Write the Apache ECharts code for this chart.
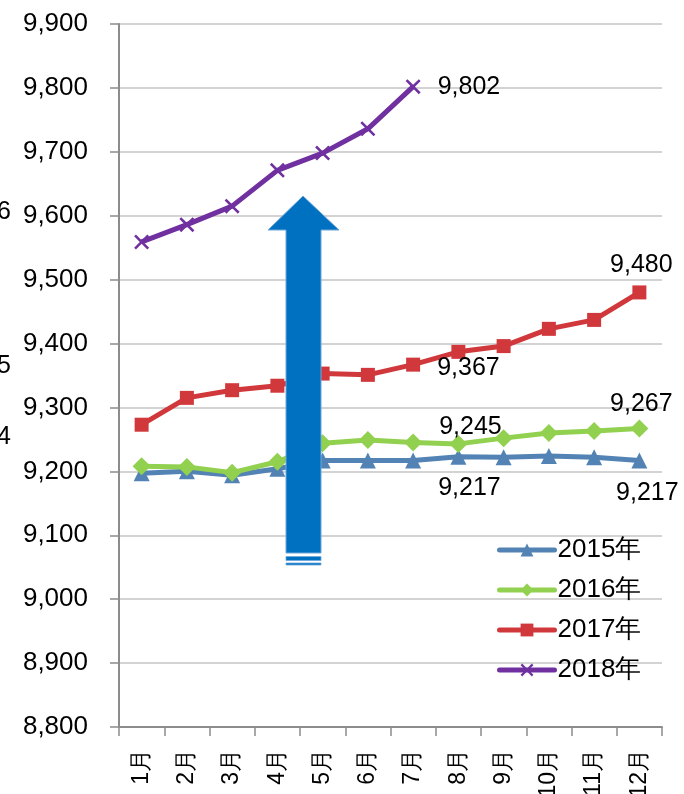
<!DOCTYPE html>
<html>
<head>
<meta charset="utf-8">
<script src="https://cdn.jsdelivr.net/npm/echarts@6/dist/echarts.min.js"></script>
<style>
  html, body { margin: 0; padding: 0; background: #fff; }
  #chart { width: 684px; height: 794px; }
</style>
</head>
<body>
<div id="chart"></div>
<script>
// Monthly figures, one array per year
const months = ['1月', '2月', '3月', '4月', '5月', '6月', '7月', '8月', '9月', '10月', '11月', '12月'];
const seriesNames = ['2015年', '2016年', '2017年', '2018年'];
const y2015 = [9197, 9200, 9194, 9204, 9217, 9217, 9217, 9223, 9222, 9224, 9222, 9217];
const y2016 = [9208, 9207, 9198, 9215, 9244, 9249, 9245, 9243, 9252, 9260, 9263, 9267];
const y2017 = [9273, 9315, 9327, 9334, 9353, 9351, 9367, 9387, 9396, 9423, 9437, 9480];
const y2018 = [9559, 9586, 9615, 9671, 9698, 9736, 9802];
const yTicks = { min: 8800, max: 9900, step: 100 };

const fmt = v => v.toLocaleString('en-US');
const FONT = '"Liberation Sans", Arial, sans-serif';

// Put a value label on selected points of a series
function withLabels(values, specs) {
  const out = values.slice();
  specs.forEach(([idx, opt]) => {
    out[idx] = {
      value: values[idx],
      label: Object.assign({ show: true, formatter: p => fmt(p.value), color: '#000', fontSize: 25, fontFamily: FONT }, opt)
    };
  });
  return out;
}

const crossPath = 'path://M0,1.2 L1.2,0 L5,3.8 L8.8,0 L10,1.2 L6.2,5 L10,8.8 L8.8,10 L5,6.2 L1.2,10 L0,8.8 L3.8,5 Z';

const chart = echarts.init(document.getElementById('chart'), null, { renderer: 'canvas' });

const option = {
  animation: false,
  backgroundColor: '#fff',
  textStyle: { fontFamily: FONT },
  grid: { left: 119, right: 22, top: 24, bottom: 67, containLabel: false, outerBoundsMode: 'none' },
  legend: {
    data: seriesNames,
    orient: 'vertical',
    left: 492,
    top: 532,
    itemWidth: 55,
    itemHeight: 16,
    itemGap: 14,
    lineStyle: { width: 5, cap: 'round' },
    textStyle: { fontSize: 26, color: '#000', fontFamily: FONT, padding: [0, 0, 0, -2] }
  },
  xAxis: {
    type: 'category',
    data: months,
    boundaryGap: true,
    axisLine: { lineStyle: { color: '#8c8c8c', width: 2 } },
    axisTick: { show: true, alignWithLabel: false, length: 9, lineStyle: { color: '#8c8c8c', width: 1.5 } },
    axisLabel: { rotate: 90, margin: 22, fontSize: 23, color: '#000', fontFamily: FONT, interval: 0 },
    splitLine: { show: false }
  },
  yAxis: {
    type: 'value',
    min: yTicks.min,
    max: yTicks.max,
    interval: yTicks.step,
    axisLine: { show: true, lineStyle: { color: '#8c8c8c', width: 2 } },
    axisTick: { show: true, length: 9, lineStyle: { color: '#8c8c8c', width: 1.5 } },
    axisLabel: { margin: 31, fontSize: 26, color: '#000', fontFamily: FONT, formatter: v => fmt(v) },
    splitLine: { lineStyle: { color: '#c4c4c4', width: 1.5 } }
  },
  series: [
    {
      name: '2015年', type: 'line',
      data: withLabels(y2015, [[6, { position: 'right', distance: 17, offset: [0, 28] }], [11, { position: 'bottom', distance: 12, offset: [8, 0] }]]),
      symbol: 'triangle', symbolSize: 16, showAllSymbol: true,
      lineStyle: { color: '#5383B4', width: 5 },
      itemStyle: { color: '#5383B4' },
      z: 2
    },
    {
      name: '2016年', type: 'line',
      data: withLabels(y2016, [[6, { position: 'right', distance: 17, offset: [0, -15] }], [11, { position: 'top', distance: 3, offset: [2, 0] }]]),
      symbol: 'diamond', symbolSize: 18, showAllSymbol: true,
      lineStyle: { color: '#92D050', width: 5 },
      itemStyle: { color: '#92D050' },
      z: 3
    },
    {
      name: '2017年', type: 'line',
      data: withLabels(y2017, [[6, { position: 'right', distance: 17, offset: [0, 3] }], [11, { position: 'top', distance: 8, offset: [2, 0] }]]),
      symbol: 'rect', symbolSize: 14, showAllSymbol: true,
      lineStyle: { color: '#D0383B', width: 5 },
      itemStyle: { color: '#D0383B' },
      z: 4
    },
    {
      name: '2018年', type: 'line',
      data: withLabels(y2018, [[6, { position: 'right', distance: 17, offset: [0, 0] }]]),
      symbol: crossPath, symbolSize: 15, showAllSymbol: true,
      lineStyle: { color: '#7030A0', width: 5 },
      itemStyle: { color: '#7030A0' },
      z: 5
    }
  ],
  graphic: [
    // upward trend arrow
    {
      type: 'polygon', z: 100,
      shape: { points: [[303, 196], [339, 230], [321, 230], [321, 553], [286, 553], [286, 230], [268, 230]] },
      style: { fill: '#0070C0', stroke: '#6fa8dc', lineWidth: 1 }
    },
    { type: 'rect', z: 100, shape: { x: 286, y: 556.5, width: 35, height: 4 }, style: { fill: '#0070C0', stroke: '#6fa8dc', lineWidth: 0.8 } },
    { type: 'rect', z: 100, shape: { x: 286, y: 563, width: 35, height: 2 }, style: { fill: '#0070C0', stroke: '#6fa8dc', lineWidth: 0.8 } },
    // characters left over at the page edge
    { type: 'text', left: -3, top: 200, style: { text: '6', font: '25px ' + FONT, fill: '#000' } },
    { type: 'text', left: -3, top: 354, style: { text: '5', font: '25px ' + FONT, fill: '#000' } },
    { type: 'text', left: -3, top: 425, style: { text: '4', font: '25px ' + FONT, fill: '#000' } }
  ]
};

chart.setOption(option);
</script>
</body>
</html>
